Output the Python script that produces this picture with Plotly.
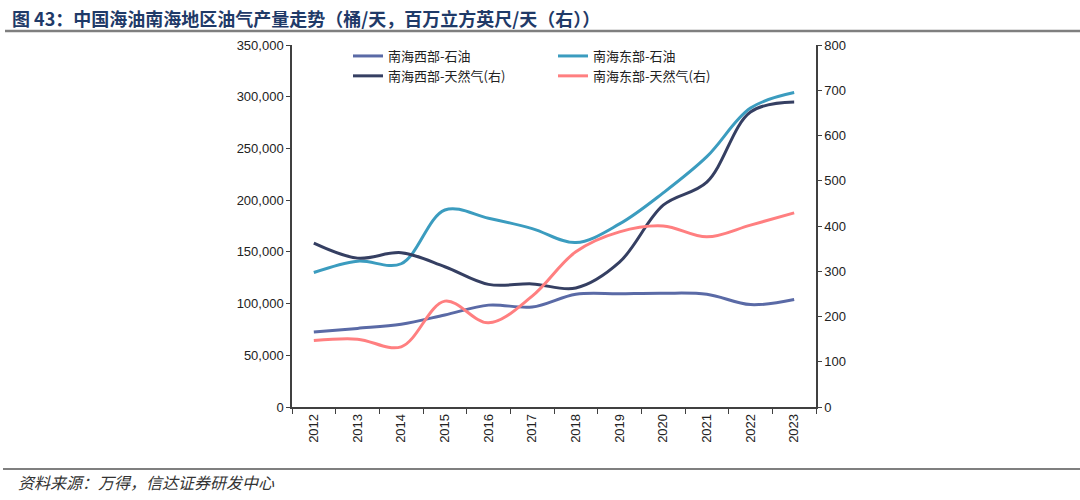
import plotly.graph_objects as go

years = ["2012", "2013", "2014", "2015", "2016", "2017", "2018", "2019", "2020", "2021", "2022", "2023"]
west_oil = [72500, 76000, 80000, 89000, 98500, 96700, 109000, 109500, 110000, 109000, 99000, 104000]
east_oil = [130000, 141000, 138500, 190500, 182500, 172500, 159000, 177000, 207000, 242000, 289000, 304000]
west_gas = [362, 329, 341, 310, 271, 272, 263, 320, 446, 497, 652, 674]
east_gas = [147, 150, 133, 234, 186, 245, 343, 387, 400, 376, 402, 429]

names = ["南海西部-石油", "南海东部-石油", "南海西部-天然气(右)", "南海东部-天然气(右)"]
colors = ["#5A6AA6", "#3B9CBF", "#353F62", "#FF7F80"]

L, R, T, B = 292, 264, 45, 93
W, H = 1080, 500
pw = W - L - R
ph = H - T - B

def px2x(px):
    return (px - L) / pw

def px2y(py):
    return (H - B - py) / ph

fig = go.Figure()
fig.add_trace(go.Scatter(x=years, y=west_oil, name=names[0], mode="lines",
                         line=dict(color=colors[0], width=3, shape="spline", smoothing=1.0),
                         legend="legend"))
fig.add_trace(go.Scatter(x=years, y=west_gas, name=names[2], mode="lines", yaxis="y2",
                         line=dict(color=colors[2], width=3, shape="spline", smoothing=1.0),
                         legend="legend"))
fig.add_trace(go.Scatter(x=years, y=east_oil, name=names[1], mode="lines",
                         line=dict(color=colors[1], width=3, shape="spline", smoothing=1.0),
                         legend="legend2"))
fig.add_trace(go.Scatter(x=years, y=east_gas, name=names[3], mode="lines", yaxis="y2",
                         line=dict(color=colors[3], width=3, shape="spline", smoothing=1.0),
                         legend="legend2"))

axis_font = dict(family="Liberation Sans, Arial, sans-serif", size=13, color="#222222")
legend_font = dict(family="Noto Sans CJK SC, sans-serif", size=13, color="#222222")

fig.update_layout(
    width=W, height=H,
    margin=dict(l=L, r=R, t=T, b=B),
    paper_bgcolor="white", plot_bgcolor="white",
    showlegend=True,
    xaxis=dict(type="category", range=[-0.5, 11.5], showgrid=False, zeroline=False,
               showline=True, linecolor="#404040", linewidth=1.5,
               ticks="outside", tickson="boundaries", ticklen=5, tickcolor="#404040",
               tickangle=-90, tickfont=axis_font),
    yaxis=dict(range=[0, 350000], dtick=50000, showgrid=False, zeroline=False,
               showline=True, linecolor="#404040", linewidth=1.5,
               ticks="outside", ticklen=4, tickcolor="#404040",
               tickformat=",d", tickfont=axis_font),
    yaxis2=dict(range=[0, 800], dtick=100, overlaying="y", side="right",
                showgrid=False, zeroline=False,
                showline=True, linecolor="#404040", linewidth=1.5,
                ticks="outside", ticklen=4, tickcolor="#404040",
                tickfont=axis_font),
    legend=dict(x=px2x(348), y=px2y(41), xanchor="left", yanchor="top",
                orientation="v", font=legend_font, bgcolor="rgba(0,0,0,0)",
                tracegroupgap=0, itemwidth=30),
    legend2=dict(x=px2x(553), y=px2y(41), xanchor="left", yanchor="top",
                 orientation="v", font=legend_font, bgcolor="rgba(0,0,0,0)",
                 tracegroupgap=0, itemwidth=30),
)

fig.add_annotation(text="图 43：中国海油南海地区油气产量走势（桶/天，百万立方英尺/天（右））",
                   xref="paper", yref="paper", x=px2x(10), y=px2y(18),
                   xanchor="left", yanchor="middle", showarrow=False,
                   font=dict(family="Noto Sans CJK SC, sans-serif", size=18, color="#1F3A68", weight="bold"))
fig.add_annotation(text="资料来源：万得，信达证券研发中心",
                   xref="paper", yref="paper", x=px2x(16), y=px2y(482),
                   xanchor="left", yanchor="middle", showarrow=False,
                   font=dict(family="Noto Sans CJK SC, sans-serif", size=16, color="#333333", style="italic"))

fig.add_shape(type="line", xref="paper", yref="paper",
              x0=px2x(5), x1=px2x(1080), y0=px2y(31), y1=px2y(31),
              line=dict(color="#7F7F7F", width=2.5))
fig.add_shape(type="line", xref="paper", yref="paper",
              x0=px2x(3), x1=px2x(1080), y0=px2y(469), y1=px2y(469),
              line=dict(color="#7F7F7F", width=2))

fig.write_html("out.html", config={"displayModeBar": False},
               post_script="document.body.style.margin='0px';document.body.style.overflow='hidden';")
